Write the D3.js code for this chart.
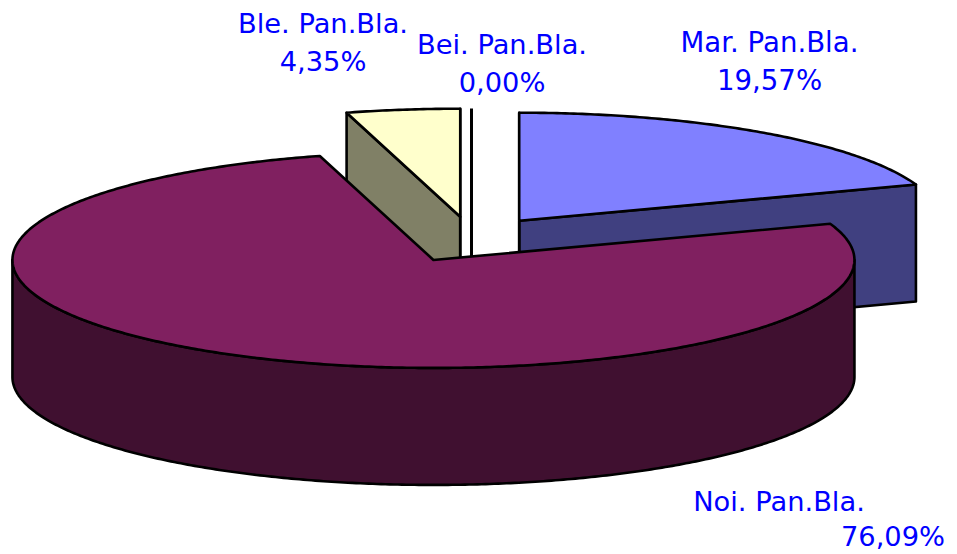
<!DOCTYPE html>
<html>
<head>
<meta charset="utf-8">
<style>html,body{margin:0;padding:0;background:#fff}svg{display:block}</style>
<script src="https://cdn.jsdelivr.net/npm/d3@7/dist/d3.min.js"></script>
</head>
<body>
<svg id="chart" width="957" height="554"></svg>
<script>
// Data
const categories = ["Mar. Pan.Bla.", "Noi. Pan.Bla.", "Ble. Pan.Bla.", "Bei. Pan.Bla."];
const values = [19.57, 76.09, 4.35, 0.00];
const valueLabels = ["19,57%", "76,09%", "4,35%", "0,00%"];
const topColors = ["#8080ff", "#802060", "#ffffcc", "#ffffff"];
const sideColors = ["#404080", "#401030", "#808066", "#808080"];

// Layout
const W = 957, H = 554;
const cx = 471.5, cy = 239.5, rx = 421, ry = 108, depth = 117, explodeX = 0.1965, explodeY = 0.213;
const labelPos = [
  {x:[769.5,769.5], y:[52,90], fs:27.6},
  {x:[779,893], y:[511,546], fs:27.3},
  {x:[323,323], y:[33,71], fs:27.3},
  {x:[502,502], y:[54,92], fs:27.3}
];

const svg = d3.select("#chart");
const sx = d3.scaleLinear().domain([-1,1]).range([cx-rx,cx+rx]);
const sy = d3.scaleLinear().domain([-1,1]).range([cy+ry,cy-ry]);
const lineGen = d3.line().x(p=>p[0]).y(p=>p[1]);

const arcs = d3.pie().sort(null).value(d=>d)(values);

function geom(a){
  const mid = (a.startAngle+a.endAngle)/2;
  const ox = explodeX*Math.sin(mid), oy = explodeY*Math.cos(mid);
  const pt = t => [sx(ox+Math.sin(t)), sy(oy+Math.cos(t))];
  return {pt, c:[sx(ox),sy(oy)]};
}
function sample(t0,t1){
  const n = Math.max(2,Math.ceil(Math.abs(t1-t0)/0.01));
  return d3.range(n+1).map(i=>t0+(t1-t0)*i/n);
}
const down = p=>[p[0],p[1]+depth];
function drawPoly(pts,fill,sw){
  svg.append("path").attr("d",lineGen(pts)+"Z").attr("fill",fill)
    .attr("stroke","#000").attr("stroke-width",sw||2.6).attr("stroke-linejoin","round");
}
function drawSlice(i){
  const a = arcs[i], g = geom(a), s=a.startAngle, e=a.endAngle;
  const top = sideColors[i], tc = topColors[i];
  const pS=g.pt(s), pE=g.pt(e), c=g.c;
  if(i===0){ // right cut face of Mar faces viewer
    drawPoly([c,pE,down(pE),down(c)],top);
    drawPoly([c,pS,down(pS),down(c)],top);
  }
  if(i===2){ // left cut face of Ble faces viewer
    drawPoly([pS,c,down(c),down(pS)],top);
    drawPoly([c,pE,down(pE),down(c)],top);
  }
  if(i===3){
    svg.append("path").attr("d",lineGen([pS,c,down(c)])).attr("fill","none")
      .attr("stroke","#000").attr("stroke-width",3);
    return;
  }
  // visible outer wall (front half only)
  const wS=Math.max(s,Math.PI/2), wE=Math.min(e,3*Math.PI/2);
  if(wE>wS){
    const outer=sample(wS,wE).map(g.pt);
    drawPoly(outer.concat(outer.map(down).reverse()),top);
  }
  // top
  drawPoly([c].concat(sample(s,e).map(g.pt)),tc);
}
[0,3,2,1].forEach(drawSlice);

// Labels
categories.forEach((name,i)=>{
  const p=labelPos[i];
  [name,valueLabels[i]].forEach((t,j)=>{
    svg.append("text").attr("x",p.x[j]).attr("y",p.y[j])
      .attr("text-anchor","middle")
      .attr("font-family","'DejaVu Sans',Verdana,sans-serif")
      .attr("font-size",p.fs).attr("fill","#0000ff").text(t);
  });
});
</script>
</body>
</html>
